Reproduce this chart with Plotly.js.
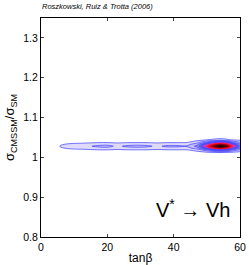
<!DOCTYPE html>
<html><head><meta charset="utf-8">
<script src="https://cdn.plot.ly/plotly-3.0.1.min.js"></script>
<style>html,body{margin:0;padding:0;background:#fff}#c{width:249px;height:265px}</style>
</head><body><div id="c"></div>
<script>
// tanβ grid
const tanb = [4,6,9,13,17,20,23,26,29,32,35,38,41,44,47,50,52,54,56,58,60,62];
// sigma ratio grid
const ratio = [1.0,1.006,1.012,1.018,1.023,1.028,1.033,1.038,1.044,1.05,1.056];
// relative posterior density (rows follow ratio, columns follow tanb)
const density = [
 [0,0,0,0,0,0,0,0,0,0,0,0,0,0,0,0,0,0,0,0,0,0],
 [0,0,0,0,0,0,0,0,0,0,0,0,0,0,0,0,0,0,0,0,0,0],
 [0,0,0,0,0,0,0,0,0,0,0,0,0,0,0.01,0.02,0.03,0.04,0.03,0.02,0.01,0.01],
 [0,0.01,0.02,0.025,0.035,0.035,0.03,0.035,0.035,0.035,0.03,0.035,0.035,0.035,0.08,0.2,0.3,0.38,0.32,0.2,0.12,0.07],
 [0,0.04,0.065,0.08,0.11,0.12,0.085,0.11,0.12,0.11,0.085,0.11,0.11,0.11,0.2,0.45,0.68,0.8,0.7,0.42,0.25,0.15],
 [0,0.06,0.10,0.12,0.17,0.18,0.13,0.17,0.18,0.17,0.13,0.17,0.17,0.16,0.28,0.6,0.88,1.0,0.92,0.56,0.33,0.2],
 [0,0.04,0.065,0.08,0.11,0.12,0.085,0.11,0.12,0.11,0.085,0.11,0.11,0.11,0.21,0.48,0.7,0.82,0.72,0.44,0.26,0.16],
 [0,0.01,0.02,0.025,0.035,0.035,0.03,0.035,0.035,0.035,0.03,0.035,0.035,0.04,0.1,0.27,0.4,0.5,0.42,0.24,0.15,0.09],
 [0,0,0,0,0,0,0,0,0,0,0,0,0,0.005,0.02,0.05,0.065,0.08,0.065,0.04,0.03,0.02],
 [0,0,0,0,0,0,0,0,0,0,0,0,0,0,0.005,0.01,0.015,0.02,0.015,0.01,0.005,0],
 [0,0,0,0,0,0,0,0,0,0,0,0,0,0,0,0,0,0,0,0,0,0]
];
const xTicks = [0,20,40,60];
const yTicks = [0.8,0.9,1.0,1.1,1.2,1.3];
const yTickText = ['0.8','0.9','1','1.1','1.2','1.3'];

const fillTrace = {
  type:'contour', x:tanb, y:ratio, z:density,
  zmin:0, zmax:1, autocontour:false,
  contours:{start:0.05,end:0.95,size:0.1,coloring:'fill',showlines:false},
  colorscale:[[0,'#ffffff'],[0.03,'#ffffff'],[0.08,'#e4e0fa'],[0.2,'#c4bcf4'],[0.3,'#8c88f0'],[0.4,'#6060ea'],[0.5,'#d040c0'],[0.6,'#ff1850'],[0.75,'#e00018'],[0.85,'#700008'],[1,'#000000']],
  showscale:false, hoverinfo:'skip', line:{width:0}
};
const lineTrace = {
  type:'contour', x:tanb, y:ratio, z:density,
  autocontour:false,
  contours:{start:0.05,end:0.45,size:0.1,coloring:'none',showlines:true},
  line:{color:'#3c3cff',width:0.7,smoothing:1},
  showscale:false, hoverinfo:'skip'
};
const axFont = {family:'Liberation Sans, Arial, sans-serif',size:10.5,color:'#000'};
const layout = {
  width:249,height:265,
  margin:{l:41,r:9,t:18,b:28,pad:0},
  paper_bgcolor:'#fff',plot_bgcolor:'#fff',
  showlegend:false,
  font:axFont,
  xaxis:{range:[0,60],tickvals:xTicks,ticktext:xTicks.map(String),ticks:'inside',ticklen:3,
    mirror:'allticks',showline:true,linecolor:'#000',linewidth:1,showgrid:false,zeroline:false,
    tickfont:axFont,title:{text:'tanβ',font:{family:'Liberation Sans, Arial, sans-serif',size:12},standoff:2}},
  yaxis:{range:[0.8,1.35],tickvals:yTicks,ticktext:yTickText,ticks:'inside',ticklen:3,
    mirror:'allticks',showline:true,linecolor:'#000',linewidth:1,showgrid:false,zeroline:false,
    tickfont:axFont,title:{text:'σ<sub>CMSSM</sub>/σ<sub>SM</sub>',font:{family:'Liberation Sans, Arial, sans-serif',size:13},standoff:5}},
  annotations:[
    {text:'<i>Roszkowski, Ruiz &amp; Trotta (2006)</i>',xref:'paper',yref:'paper',x:-0.005,y:1.0,yshift:5,
     xanchor:'left',yanchor:'bottom',showarrow:false,font:{family:'Liberation Sans, Arial, sans-serif',size:7.5,color:'#000'}},
    {text:'V<sup>*</sup> → Vh',xref:'x',yref:'y',x:57.5,y:0.872,xanchor:'right',yanchor:'middle',showarrow:false,
     font:{family:'Liberation Sans, Arial, sans-serif',size:20,color:'#000'}}
  ]
};
Plotly.newPlot('c',[fillTrace,lineTrace],layout,{staticPlot:true,displayModeBar:false});
</script></body></html>
